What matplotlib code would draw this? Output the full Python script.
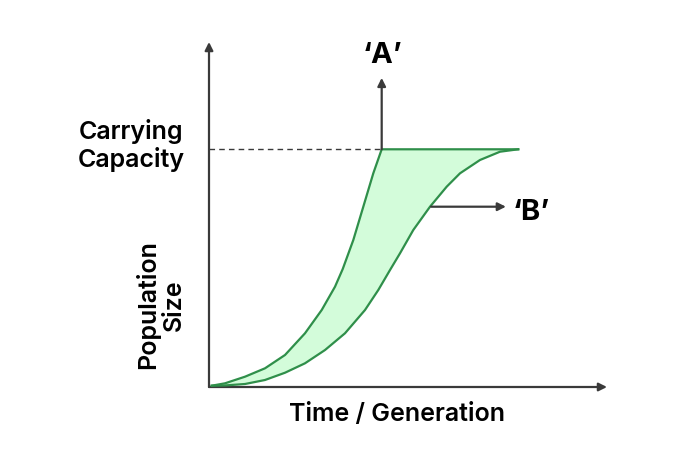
"""Population growth: J-shaped ('A') vs S-shaped ('B') curves."""
import matplotlib
matplotlib.use("Agg")
import matplotlib.pyplot as plt

plt.rcParams["font.family"] = ["Inter", "DejaVu Sans"]

# values (time and population in arbitrary units, 0-100)
CARRYING_CAPACITY = 68.9

J_TIME = [0.68, 4.02, 9.05, 14.07, 19.10, 24.12, 28.32, 31.66, 33.60, 36.26,
          38.77, 41.28, 43.39]
J_POP = [0.38, 1.07, 2.99, 5.42, 9.28, 15.57, 22.32, 29.07, 34.20, 42.61,
         52.26, 61.94, 68.9]
PLATEAU_END = 77.7

S_TIME = [0.68, 4.02, 9.05, 14.07, 19.10, 24.12, 29.15, 34.17, 39.20, 42.54,
          45.48, 47.99, 51.33, 55.53, 59.72, 63.07, 68.09, 73.12, 77.7]
S_POP = [0.38, 0.45, 0.87, 2.03, 4.14, 6.87, 10.72, 15.57, 22.32, 28.12,
         33.91, 38.75, 45.51, 52.26, 58.06, 61.94, 65.80, 68.20, 68.9]

GREEN = "#2f8f4a"
FILL = "#d3fcda"
INK = "#3a3a3a"


def main():
    fig = plt.figure(figsize=(6.81, 4.70), dpi=100)
    ax = fig.add_axes([209 / 681, 83 / 470, 398 / 681, 345 / 470])
    ax.set_xlim(0, 100)
    ax.set_ylim(0, 100)
    ax.axis("off")

    arrow = dict(arrowstyle="-|>", color=INK, lw=1.6,
                 mutation_scale=12, shrinkA=0, shrinkB=0)

    # axes with arrow heads
    ax.annotate("", xy=(0, 1), xytext=(0, 0), xycoords="axes fraction",
                arrowprops=arrow)
    ax.annotate("", xy=(1, 0), xytext=(0, 0), xycoords="axes fraction",
                arrowprops=arrow)

    # full J curve = exponential rise then flat at K
    j_t = J_TIME + [PLATEAU_END]
    j_p = J_POP + [CARRYING_CAPACITY]

    # shaded region between the curves (polygon: J forward, S back)
    ax.fill(j_t + S_TIME[::-1], j_p + S_POP[::-1], color=FILL, lw=0, zorder=1)
    ax.plot(j_t, j_p, color=GREEN, lw=1.6, zorder=3, solid_joinstyle="round")
    ax.plot(S_TIME, S_POP, color=GREEN, lw=1.6, zorder=3,
            solid_joinstyle="round")

    # carrying capacity guide
    ax.plot([0, J_TIME[-1]], [CARRYING_CAPACITY, CARRYING_CAPACITY],
            color=INK, lw=1.0, ls=(0, (4, 3)), zorder=2)

    # 'A' arrow going straight up from the end of the J curve
    ax.annotate("", xy=(J_TIME[-1], 89.6),
                xytext=(J_TIME[-1], CARRYING_CAPACITY), arrowprops=arrow)
    ax.text(J_TIME[-1] + 0.3, 96.2, "‘A’", ha="center", va="center",
            fontsize=21, fontweight="bold", color="black")

    # 'B' arrow pointing out of the S curve
    ax.annotate("", xy=(74.6, 52.26), xytext=(55.8, 52.26), arrowprops=arrow)
    ax.text(81.0, 50.7, "‘B’", ha="center", va="center",
            fontsize=21, fontweight="bold", color="black")

    # labels
    style = dict(fontsize=18, fontweight="semibold", color="black",
                 linespacing=1.15, clip_on=False)
    ax.text(-19.6, 70.1, "Carrying\nCapacity", ha="center", va="center",
            **style)
    ax.text(-12.3, 23.8, "Population\nSize", ha="center", va="center",
            rotation=90, **style)
    ax.text(47.2, -8.1, "Time / Generation", ha="center", va="center",
            **style)

    fig.savefig("out.png", dpi=100)


if __name__ == "__main__":
    main()
